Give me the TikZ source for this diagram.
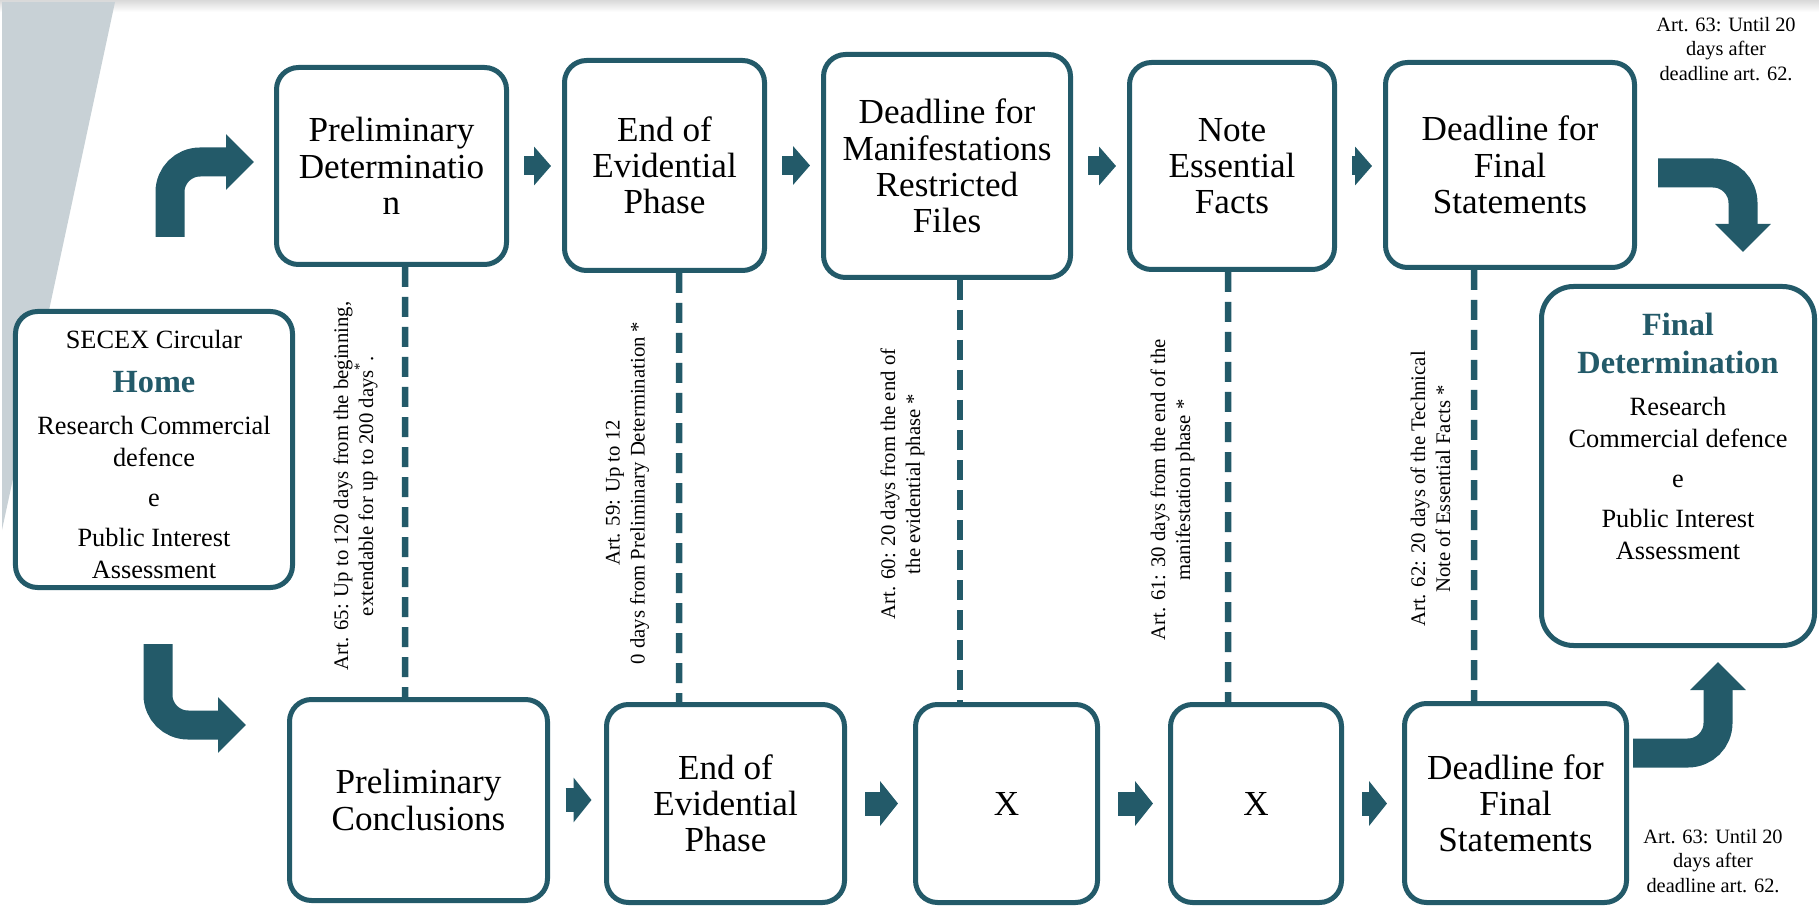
\documentclass[tikz,border=0pt]{standalone}
\usepackage{fontspec}
\setmainfont{Liberation Serif}
\usetikzlibrary{arrows.meta}
\definecolor{petrol}{HTML}{235A69}
\definecolor{slate}{HTML}{C8D1D6}
\newcommand{\headword}[1]{{\fontsize{9.2}{9.2}\selectfont\bfseries\color{petrol}#1}}

\begin{document}
\begin{tikzpicture}[
    stage/.style={draw=petrol, line width=0.05cm, rounded corners=0.22cm, fill=white,
      align=center, inner sep=0pt, font=\fontsize{10}{10.3}\selectfont},
    tie/.style={petrol, line width=0.065cm, dash pattern=on 0.2cm off 0.1cm},
    hop/.style={petrol, line width=0.19cm, -{Triangle[length=0.17cm,width=0.38cm]},
      shorten <=0.15cm, shorten >=0.11cm},
    hopwide/.style={petrol, line width=0.24cm, -{Triangle[length=0.18cm,width=0.44cm]},
      shorten <=0.18cm, shorten >=0.15cm},
    turn/.style={petrol, line width=0.29cm, rounded corners=0.3cm,
      -{Triangle[length=0.28cm,width=0.54cm]}},
    article/.style={rotate=90, align=center, inner sep=0pt, font=\fontsize{5.9}{7.1}\selectfont},
    aside/.style={align=center, inner sep=0pt, font=\fontsize{5.8}{7}\selectfont},
    boxtext/.style={align=center, inner sep=0pt, font=\fontsize{7.5}{9.1}\selectfont}
  ]
    \fill[white] (0,0) rectangle (18.19,9.09);
    \useasboundingbox (0,0) rectangle (18.19,9.09);
    \shade[top color=black!15, bottom color=white] (0,9.09) rectangle (18.19,8.97);
    \fill[slate] (0.02,9.07) -- (1.15,9.07) -- (0.02,3.79) -- cycle;

    \node[stage, minimum width=2.30cm, minimum height=1.97cm] (pd) at (3.915,7.43) {Preliminary\\Determinatio\\n};
    \node[stage, minimum width=2.00cm, minimum height=2.10cm] (ep) at (6.645,7.435) {End of\\Evidential\\Phase};
    \node[stage, minimum width=2.47cm, minimum height=2.23cm] (dm) at (9.47,7.43) {Deadline for\\Manifestations\\Restricted\\Files};
    \node[stage, minimum width=2.05cm, minimum height=2.07cm] (nf) at (12.32,7.43) {Note\\Essential\\Facts};
    \node[stage, minimum width=2.49cm, minimum height=2.05cm] (fs) at (15.10,7.44) {Deadline for\\Final\\Statements};

    \node[stage, minimum width=2.58cm, minimum height=2.01cm] (pc) at (4.185,1.09) {Preliminary\\Conclusions};
    \node[stage, minimum width=2.38cm, minimum height=1.98cm] (ep2) at (7.255,1.055) {End of\\Evidential\\Phase};
    \node[stage, minimum width=1.82cm, minimum height=1.98cm] (xa) at (10.065,1.055) {X};
    \node[stage, minimum width=1.71cm, minimum height=1.98cm] (xb) at (12.56,1.055) {X};
    \node[stage, minimum width=2.22cm, minimum height=1.99cm] (fs2) at (15.155,1.06) {Deadline for\\Final\\Statements};

    \node[stage, minimum width=2.77cm, minimum height=2.76cm] (secex) at (1.54,4.595) {};
    \node[boxtext] (secextext) at ([yshift=-0.05cm]secex.center)
      {SECEX Circular\\[3.6pt]\headword{Home}\\[2.9pt]Research Commercial\\defence\\[2.3pt]e\\[2.3pt]Public Interest\\Assessment};
    \node[stage, minimum width=2.73cm, minimum height=3.59cm, rounded corners=0.32cm] (fd) at (16.78,4.43) {};
    \node[boxtext, anchor=north] (fdtext) at ([yshift=-0.28cm]fd.north)
      {\headword{Final}\\[1.7pt]\headword{Determination}\\[2.9pt]Research\\Commercial defence\\[2.3pt]e\\[2.3pt]Public Interest\\Assessment};

    \draw[tie] ([xshift=0.135cm]pd.south) -- ([xshift=-0.135cm]pc.north);
    \draw[tie] ([xshift=0.145cm]ep.south) -- ([xshift=-0.465cm]ep2.north);
    \draw[tie] ([xshift=0.13cm]dm.south) -- ([xshift=-0.465cm]xa.north);
    \draw[tie] ([xshift=-0.04cm]nf.south) -- ([xshift=-0.28cm]xb.north);
    \draw[tie] ([xshift=-0.36cm]fs.south) -- ([xshift=-0.415cm]fs2.north);

    \node[article] (a65) at (3.555,4.23) {Art. 65: Up to 120 days from the beginning,\\extendable for up to 200 days\textsuperscript{*}.};
    \node[article] (a59) at (6.275,4.16) {Art. 59: Up to 12\\0 days from Preliminary Determination *};
    \node[article] (a60) at (9.025,4.25) {Art. 60: 20 days from the end of\\the evidential phase *};
    \node[article] (a61) at (11.725,4.19) {Art. 61: 30 days from the end of the\\manifestation phase *};
    \node[article] (a62) at (14.305,4.20) {Art. 62: 20 days of the Technical\\Note of Essential Facts *};

    \draw[hop] (pd.east) -- (pd.east -| ep.west);
    \draw[hop] (ep.east) -- (ep.east -| dm.west);
    \draw[hop] (dm.east) -- (dm.east -| nf.west);
    \draw[hop] (nf.east) -- (nf.east -| fs.west);
    \draw[hopwide, shorten <=0.155cm, shorten >=0.125cm] (pc.east) -- (pc.east -| ep2.west);
    \draw[hopwide] (ep2.east) -- (ep2.east -| xa.west);
    \draw[hopwide] (xa.east) -- (xa.east -| xb.west);
    \draw[hopwide] (xb.east) -- (xb.east -| fs2.west);

    \coordinate (upfrom) at (1.70,6.72);
    \draw[turn] (upfrom) |- ([xshift=-0.2cm,yshift=0.04cm]pd.west);
    \coordinate (downfrom) at (1.58,2.65);
    \coordinate (downto) at (2.46,1.84);
    \draw[turn] (downfrom) |- (downto);
    \coordinate (rightfrom) at (16.58,7.36);
    \coordinate (rightto) at (17.43,6.57);
    \draw[turn] (rightfrom) -| (rightto);
    \coordinate (risefrom) at (16.33,1.56);
    \coordinate (riseto) at (17.18,2.47);
    \draw[turn] (risefrom) -| (riseto);

    \node[aside] (n63top) at (17.26,8.60) {Art. 63: Until 20\\days after\\deadline art. 62.};
    \node[aside] (n63bot) at (17.13,0.48) {Art. 63: Until 20\\days after\\deadline art. 62.};
  \end{tikzpicture}
\end{document}
